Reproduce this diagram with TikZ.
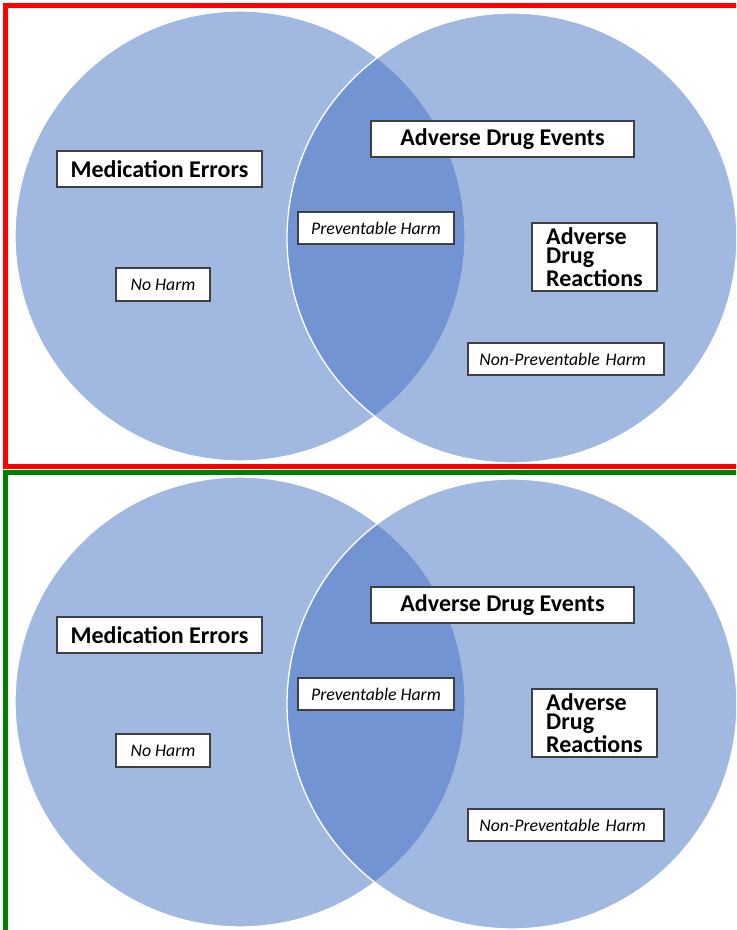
\documentclass[tikz,border=0pt]{standalone}
\usepackage{fontspec}
\setmainfont{Carlito}
\usetikzlibrary{positioning}
\definecolor{vennblue}{RGB}{68,114,196}
\definecolor{boxline}{RGB}{64,64,64}
\definecolor{framegreen}{RGB}{0,128,0}
\tikzset{
    venn/.style={fill=vennblue, fill opacity=0.5, draw=white, line width=1pt},
    bigbox/.style={draw=boxline, fill=white, line width=0.8pt, inner sep=0pt, font=\fontsize{18}{14.5}\selectfont\bfseries},
    smallbox/.style={draw=boxline, fill=white, line width=0.8pt, inner sep=0pt, font=\fontsize{13.3}{15}\selectfont\itshape}
}

\begin{document}
\begin{tikzpicture}[x=0.75pt, y=-0.75pt]
    \useasboundingbox (0,0) rectangle (736,930);
    \clip (0,0) rectangle (736,930);
    \fill[white] (0,0) rectangle (736,930);

    % the two copies of the diagram
    \foreach \dy in {0,466} {
        \begin{scope}[shift={(0,\dy)}]
            \path[venn] (240,236) circle (225);
            \path[venn] (512,238) circle (225);

            \node[bigbox, minimum width=153.75pt, minimum height=27pt] (me\dy) at (159.5,169) {Medication Errors};
            \node[smallbox, minimum width=70.5pt, minimum height=24.75pt] (nh\dy) at (163,284.5) {No Harm};
            \node[bigbox, minimum width=197.25pt, minimum height=27pt] (ade\dy) at (502.5,139) {Adverse Drug Events};
            \node[smallbox, minimum width=117pt, minimum height=24pt] (ph\dy) at (376,228) {Preventable Harm};
            \node[bigbox, align=left, minimum width=93.75pt, minimum height=51pt] (adr\dy) at (594.5,257) {Adverse\\Drug\\Reactions};
            \node[smallbox, minimum width=147pt, minimum height=24pt, text width=130pt, align=left] (nph\dy) at (566,359) {Non-Preventable Harm};
        \end{scope}
    }

    % frames
    \draw[red, line width=3.75pt] (800,5.5) -- (5.5,5.5) -- (5.5,466.5) -- (800,466.5);
    \draw[framegreen, line width=3.75pt] (800,472) -- (5.5,472) -- (5.5,960);
\end{tikzpicture}
\end{document}
